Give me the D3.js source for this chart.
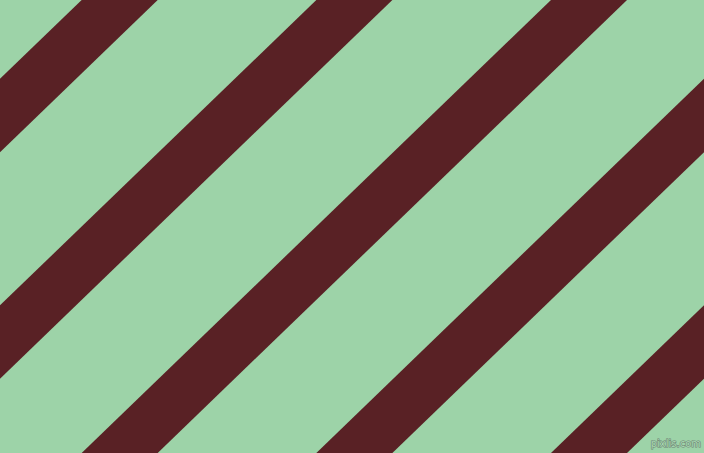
<!DOCTYPE html>
<html>
<head>
<meta charset="utf-8">
<script src="https://cdn.jsdelivr.net/npm/d3@7"></script>
<style>
html,body{margin:0;padding:0;overflow:hidden;background:#9dd3a8;}
svg{display:block;}
</style>
</head>
<body>
<script>
// Stripe pattern data
const stripeIndex = [0, 1, 2, 3, 4];          // stripe number along the diagonal
const stripeStart = [0.348, 0.348, 0.348, 0.348, 0.348]; // start phase within each period
const stripeWidth = [0.324, 0.324, 0.324, 0.324, 0.324]; // width within each period
const periodsAcross = [0, 3];   // periods along the top edge
const periodsDown = [0, 2];     // periods along the left edge
const colors = ["#9dd3a8", "#592125"];
const watermark = ["pixlis.com"];

const W = 704, H = 453;
const svg = d3.select("body").append("svg").attr("width", W).attr("height", H);

const xs = d3.scaleLinear().domain(periodsAcross).range([0, W]);
const ys = d3.scaleLinear().domain(periodsDown).range([0, H]);

svg.append("rect").attr("width", W).attr("height", H).attr("fill", colors[0]);

const pt = (u, y) => [xs(u - ys.invert(y)), y];
const yTop = -20, yBot = H + 20;

svg.selectAll("polygon.stripe")
  .data(stripeIndex.map((k, i) => ({ a: k + stripeStart[i], b: k + stripeStart[i] + stripeWidth[i] })))
  .join("polygon")
  .attr("class", "stripe")
  .attr("fill", colors[1])
  .attr("points", d => [pt(d.a, yTop), pt(d.b, yTop), pt(d.b, yBot), pt(d.a, yBot)].map(p => p.join(",")).join(" "));

svg.selectAll("text.wm")
  .data(watermark)
  .join("text")
  .attr("class", "wm")
  .attr("x", 701).attr("y", 447)
  .attr("text-anchor", "end")
  .attr("font-family", "DejaVu Sans, sans-serif")
  .attr("font-size", 10)
  .attr("fill", "#a8d9b2")
  .attr("stroke", "#6e8274")
  .attr("stroke-width", 1.1)
  .attr("paint-order", "stroke")
  .text(d => d);
</script>
</body>
</html>
